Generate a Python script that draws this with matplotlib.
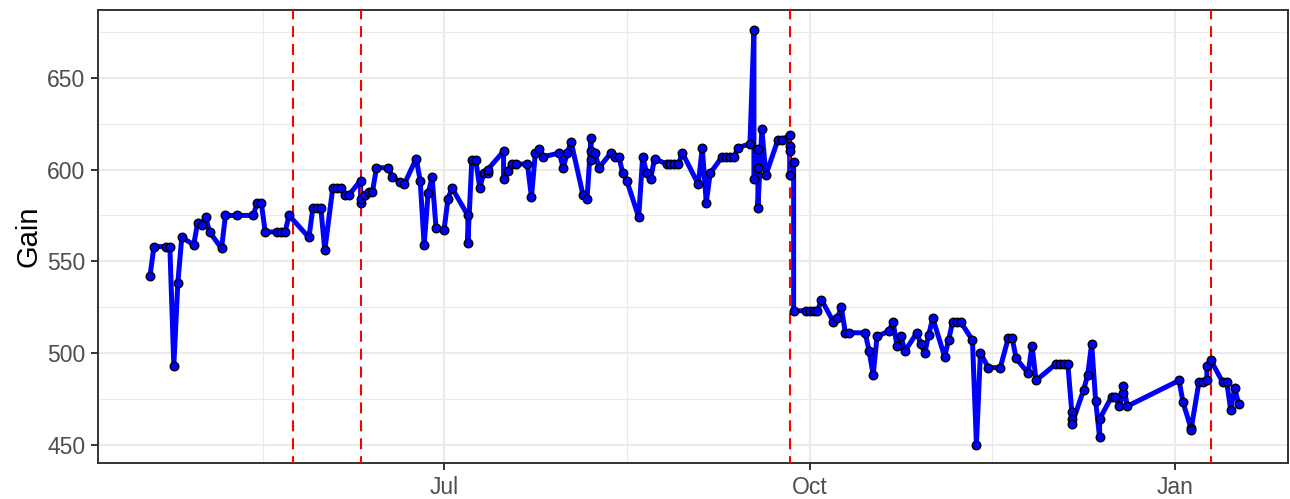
import matplotlib.pyplot as plt
import matplotlib.dates as mdates
import matplotlib.ticker as mticker
import pandas as pd

plt.rcParams['font.family'] = ['Liberation Sans', 'DejaVu Sans']

dates = [
    "2018-04-18", "2018-04-19", "2018-04-22", "2018-04-23", "2018-04-24", "2018-04-25",
    "2018-04-26", "2018-04-29", "2018-04-30", "2018-05-01", "2018-05-02", "2018-05-03",
    "2018-05-06", "2018-05-07", "2018-05-10", "2018-05-14", "2018-05-15", "2018-05-16",
    "2018-05-17", "2018-05-20", "2018-05-21", "2018-05-22", "2018-05-23", "2018-05-28",
    "2018-05-29", "2018-05-30", "2018-05-31", "2018-06-01", "2018-06-03", "2018-06-04",
    "2018-06-05", "2018-06-06", "2018-06-07", "2018-06-10", "2018-06-10", "2018-06-10",
    "2018-06-11", "2018-06-12", "2018-06-13", "2018-06-14", "2018-06-17", "2018-06-18",
    "2018-06-20", "2018-06-21", "2018-06-24", "2018-06-25", "2018-06-26", "2018-06-27",
    "2018-06-28", "2018-06-29", "2018-07-01", "2018-07-02", "2018-07-03", "2018-07-07",
    "2018-07-07", "2018-07-08", "2018-07-09", "2018-07-10", "2018-07-11", "2018-07-12",
    "2018-07-12", "2018-07-16", "2018-07-16", "2018-07-17", "2018-07-18", "2018-07-19",
    "2018-07-22", "2018-07-23", "2018-07-24", "2018-07-25", "2018-07-26", "2018-07-30",
    "2018-07-31", "2018-08-01", "2018-08-02", "2018-08-05", "2018-08-06", "2018-08-07",
    "2018-08-07", "2018-08-07", "2018-08-08", "2018-08-09", "2018-08-12", "2018-08-13",
    "2018-08-14", "2018-08-15", "2018-08-16", "2018-08-19", "2018-08-20", "2018-08-21",
    "2018-08-22", "2018-08-23", "2018-08-26", "2018-08-27", "2018-08-28", "2018-08-29",
    "2018-08-30", "2018-09-03", "2018-09-04", "2018-09-05", "2018-09-06", "2018-09-09",
    "2018-09-10", "2018-09-11", "2018-09-12", "2018-09-13", "2018-09-16", "2018-09-17",
    "2018-09-17", "2018-09-18", "2018-09-18", "2018-09-18", "2018-09-19", "2018-09-20",
    "2018-09-23", "2018-09-24", "2018-09-26", "2018-09-26", "2018-09-26", "2018-09-26",
    "2018-09-27", "2018-09-27", "2018-09-30", "2018-10-01", "2018-10-02", "2018-10-03",
    "2018-10-04", "2018-10-07", "2018-10-08", "2018-10-09", "2018-10-10", "2018-10-11",
    "2018-10-15", "2018-10-16", "2018-10-17", "2018-10-18", "2018-10-21", "2018-10-22",
    "2018-10-23", "2018-10-24", "2018-10-25", "2018-10-28", "2018-10-29", "2018-10-30",
    "2018-10-31", "2018-11-01", "2018-11-04", "2018-11-05", "2018-11-06", "2018-11-07",
    "2018-11-08", "2018-11-11", "2018-11-12", "2018-11-13", "2018-11-15", "2018-11-18",
    "2018-11-20", "2018-11-21", "2018-11-22", "2018-11-25", "2018-11-26", "2018-11-27",
    "2018-12-02", "2018-12-03", "2018-12-04", "2018-12-05", "2018-12-06", "2018-12-06",
    "2018-12-06", "2018-12-09", "2018-12-10", "2018-12-11", "2018-12-12", "2018-12-13",
    "2018-12-13", "2018-12-16", "2018-12-17", "2018-12-18", "2018-12-19", "2018-12-19",
    "2018-12-20", "2019-01-02", "2019-01-03", "2019-01-05", "2019-01-05", "2019-01-07",
    "2019-01-08", "2019-01-09", "2019-01-09", "2019-01-10", "2019-01-13", "2019-01-14",
    "2019-01-15", "2019-01-16", "2019-01-17",
]
gain = [
    542, 558, 558, 558, 493, 538,
    563, 559, 571, 570, 574, 566,
    557, 575, 575, 575, 582, 582,
    566, 566, 566, 566, 575, 563,
    579, 579, 579, 556, 590, 590,
    590, 586, 586, 594, 582, 584,
    586, 588, 588, 601, 601, 596,
    593, 592, 606, 594, 559, 587,
    596, 568, 567, 584, 590, 575,
    560, 605, 605, 590, 598, 598,
    600, 610, 595, 599, 603, 603,
    603, 585, 609, 611, 607, 609,
    601, 609, 615, 586, 584, 617,
    610, 605, 609, 601, 609, 607,
    607, 598, 594, 574, 607, 598,
    595, 606, 603, 603, 603, 603,
    609, 592, 612, 582, 598, 607,
    607, 607, 607, 612, 614, 676,
    595, 601, 611, 579, 622, 597,
    616, 616, 619, 613, 610, 597,
    604, 523, 523, 523, 523, 523,
    529, 517, 519, 525, 511, 511,
    511, 501, 488, 509, 512, 517,
    504, 509, 501, 511, 505, 500,
    510, 519, 498, 507, 517, 517,
    517, 507, 450, 500, 492, 492,
    508, 508, 497, 489, 504, 485,
    494, 494, 494, 494, 468, 464,
    461, 480, 488, 505, 474, 454,
    464, 476, 476, 471, 478, 482,
    471, 485, 473, 459, 458, 484,
    484, 485, 493, 496, 484, 484,
    469, 481, 472,
]
event_dates = ["2018-05-24", "2018-06-10", "2018-09-26", "2019-01-10"]

x = pd.to_datetime(dates)

fig = plt.figure(figsize=(12.9, 4.99), dpi=100)
ax = fig.add_axes([98 / 1290, 36 / 499, 1190 / 1290, 453 / 499])

ax.plot(x, gain, color="blue", lw=3.6, solid_joinstyle="round",
        solid_capstyle="round", zorder=3)
for d in event_dates:
    ax.axvline(pd.Timestamp(d), color="red", lw=1.5, ls=(2, (5.3, 3.3)), zorder=4)
ax.scatter(x, gain, s=38, facecolor="blue", edgecolor="black", lw=1.0, zorder=5)

ax.set_xlim(pd.Timestamp("2018-04-04 22:00"), pd.Timestamp("2019-01-29 10:00"))
ax.set_ylim(440, 687)

ax.xaxis.set_major_locator(mdates.MonthLocator(bymonth=[1, 4, 7, 10]))
ax.xaxis.set_major_formatter(mdates.DateFormatter("%b"))
quarters = pd.to_datetime(["2018-04-01", "2018-07-01", "2018-10-01", "2019-01-01", "2019-04-01"])
minor_x = [mdates.date2num(a + (b - a) / 2) for a, b in zip(quarters[:-1], quarters[1:])]
ax.xaxis.set_minor_locator(mticker.FixedLocator(minor_x))
ax.yaxis.set_major_locator(mticker.MultipleLocator(50))
ax.yaxis.set_minor_locator(mticker.MultipleLocator(25))

ax.grid(which="major", color="#EBEBEB", lw=1.5, zorder=0)
ax.grid(which="minor", color="#EBEBEB", lw=0.8, zorder=0)
ax.set_axisbelow(True)

for s in ax.spines.values():
    s.set_color("#333333")
    s.set_linewidth(1.4)

ax.tick_params(which="major", length=5.2, width=1.4, color="#333333",
               labelcolor="#4D4D4D", labelsize=16.5, pad=4)
ax.tick_params(which="minor", length=0)
ax.set_ylabel("Gain", fontsize=21, color="black", labelpad=3)

fig.savefig("out.png", dpi=100)
